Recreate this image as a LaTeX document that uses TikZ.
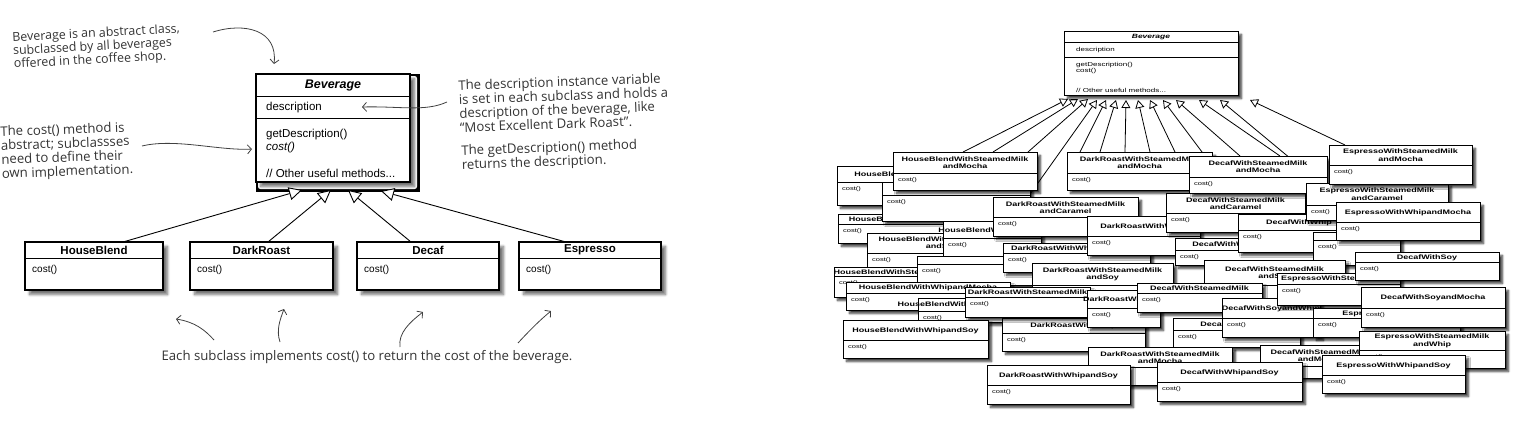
\documentclass[tikz,border=0pt]{standalone}
\usepackage{fontspec}
\usepackage{graphicx}
\setmainfont{Liberation Sans}
\newfontfamily\handfont{Open Sans}
\usetikzlibrary{arrows.meta,shadows.blur,backgrounds,calc}

\newcommand\sq[1]{\scalebox{1}[0.72]{\shortstack{#1}}}

\tikzset{
  umlbox/.style={draw=black, line width=1.2pt, fill=white, rectangle, inner sep=0pt, outer sep=0pt,
    blur shadow={shadow xshift=4.5pt, shadow yshift=-4.5pt, shadow blur radius=2.5pt, shadow blur steps=8, shadow opacity=55}},
  rbox/.style={draw=black, line width=0.9pt, fill=white, rectangle, inner sep=0pt, outer sep=0pt,
    blur shadow={shadow xshift=3.5pt, shadow yshift=-3.5pt, shadow blur radius=2pt, shadow blur steps=6, shadow opacity=75}},
  sepline/.style={line width=0.9pt},
  rsep/.style={line width=0.8pt},
  rtitle/.style={font=\fontsize{9}{9.5}\selectfont\bfseries, inner sep=0pt},
  rmeth/.style={font=\fontsize{7.5}{8}\selectfont, inner sep=0pt, anchor=west},
  umltext/.style={font=\fontsize{11.5}{13}\selectfont, inner sep=0pt, anchor=west},
  hand/.style={font=\handfont\fontsize{13.2}{14}\selectfont, text=black!80, align=left, inner sep=0pt},
  harrow/.style={-{Straight Barb[length=4pt,width=9pt]}, line width=0.8pt, draw=black!75},
  inh/.style={-{Triangle[length=13pt,width=13pt,fill=white]}, line width=0.9pt},
  rinh/.style={-{Triangle[length=8pt,width=9pt,fill=white]}, line width=0.8pt},
}

% right-hand class box: name, x1, y1, x2, y2, separator y, title
\newcommand\rcls[7]{%
  \node[rbox, minimum width={#4-#2}, minimum height={#5-#3}, anchor=north west] (#1) at (#2,#3) {};
  \draw[rsep] (#2,#6) -- (#4,#6);
  \node[rtitle] at ({(#2+#4)/2},{(#3+#6)/2+0.5}) {\sq{#7}};
  \node[rmeth] at ({#2+5},{#6+7}) {\sq{cost()}};
}
% left-hand subclass box: name, x1, x2, title
\newcommand\subc[4]{%
  \node[umlbox, minimum width={#3-#2}, minimum height=48, anchor=north west] (#1) at (#2,242) {};
  \draw[sepline] (#2,258) -- (#3,258);
  \node[font=\fontsize{11.5}{13}\selectfont\bfseries, inner sep=0pt] at ({(#2+#3)/2},250) {#4};
  \node[font=\fontsize{10}{12}\selectfont, inner sep=0pt, anchor=west] at ({#2+7},270) {cost()};
}

\begin{document}
\begin{tikzpicture}[x=1pt,y=-1pt]
\begin{pgfonlayer}{background}
\fill[white] (0,0) rectangle (1540,434);
\end{pgfonlayer}
\useasboundingbox (0,0) rectangle (1540,434);

% ================= LEFT DIAGRAM =================
\node[umlbox, minimum width=154, minimum height=108, anchor=north west] (bev) at (256,74) {};
\draw[sepline] (256,96) -- (410,96);
\draw[sepline] (256,118) -- (410,118);
\node[font=\fontsize{12.5}{14}\selectfont\bfseries\itshape, inner sep=0pt] (bevt) at (333,85) {Beverage};
\node[umltext] (bevd) at (266,107.5) {description};
\node[umltext] (bevg) at (266,134.5) {getDescription()};
\node[umltext] (bevc) at (266,147.5) {\itshape cost()};
\node[umltext] (bevo) at (266,173) {// Other useful methods...};

\subc{hb}{25}{163}{HouseBlend}
\subc{dr}{190}{333}{DarkRoast}
\subc{de}{357}{499}{Decaf}
\subc{es}{519}{661}{Espresso}

\coordinate (tHB) at (302,190);
\coordinate (tDR) at (331,190);
\coordinate (tDE) at (348,190);
\coordinate (tES) at (381,191);
\draw[inh] ($(hb.north west)+(98,0)$) -- (tHB);
\draw[inh] ($(dr.north west)+(78,0)$) -- (tDR);
\draw[inh] ($(de.north west)+(54,0)$) -- (tDE);
\draw[inh] ($(es.north west)+(47,0)$) -- (tES);

% annotations
\node[hand, font=\handfont\fontsize{12.4}{13.2}\selectfont, rotate=3, anchor=north west] (n1) at (12,32) {Beverage is an abstract class,\\subclassed by all beverages\\offered in the coffee shop.};
\coordinate (n1e) at (274,64);
\draw[harrow] (213,32) .. controls (245,22) and (278,30) .. (n1e);

\node[hand, rotate=2, anchor=north west] (n2) at (0,126) {The cost() method is\\abstract; subclassses\\need to define their\\own implementation.};
\coordinate (n2e) at (252,149);
\draw[harrow] (142,146) .. controls (175,138) and (220,151) .. (n2e);

\node[hand, rotate=2, anchor=north west] (n3) at (458,80) {The description instance variable\\is set in each subclass and holds a\\description of the beverage, like\\“Most Excellent Dark Roast”.};
\node[hand, rotate=2, anchor=north west] (n4) at (461,145) {The getDescription() method\\returns the description.};
\coordinate (n3e) at (362,107);
\draw[harrow] (447,102) .. controls (425,112) and (400,106) .. (n3e);

\node[hand] (n5) at (367,357) {Each subclass implements cost() to return the cost of the beverage.};
\coordinate (a1) at (176,319);
\coordinate (a2) at (284,309);
\coordinate (a3) at (423,312);
\coordinate (a4) at (551,311);
\draw[harrow] (214,340) .. controls (205,330) and (195,322) .. (a1);
\draw[harrow] (280,342) .. controls (276,330) and (280,320) .. (a2);
\draw[harrow] (400,347) .. controls (398,333) and (410,322) .. (a3);
\draw[harrow] (518,343) .. controls (530,330) and (540,320) .. (a4);

% ================= RIGHT DIAGRAM =================
\node[rbox, minimum width=174, minimum height=64, anchor=north west] (rbev) at (1064,31) {};
\draw[rsep] (1064,42) -- (1238,42);
\draw[rsep] (1064,57) -- (1238,57);
\node[rtitle, font=\fontsize{8.5}{9}\selectfont\bfseries\itshape] at (1151,37) {\sq{Beverage}};
\node[rmeth, font=\fontsize{8}{9}\selectfont] at (1076,50) {\sq{description}};
\node[rmeth, font=\fontsize{8}{9}\selectfont] at (1076,65) {\sq{getDescription()}};
\node[rmeth, font=\fontsize{8}{9}\selectfont] at (1076,71.5) {\sq{cost()}};
\node[rmeth, font=\fontsize{8}{9}\selectfont] at (1076,90) {\sq{// Other useful methods...}};

% pile of subclasses, back to front
\rcls{r1}{837}{166}{960}{205}{182}{HouseBlendWithSoy}
\rcls{r2}{838}{214}{960}{243}{224}{HouseBlendWithMocha}
\rcls{r3}{882}{182}{1030}{221}{195}{HouseBlendWithWhip}
\rcls{r4}{893}{152}{1037}{190}{173}{HouseBlendWithSteamedMilk\\andMocha}
\rcls{r5}{867}{233}{1017}{270}{253}{HouseBlendWithSteamedMilk\\andSoy}
\rcls{r6}{943}{221}{1041}{258}{238}{HouseBlendWithCaramel}
\rcls{r7}{993}{197}{1138}{236}{217}{DarkRoastWithSteamedMilk\\andCaramel}
\rcls{r8}{1067}{152}{1212}{190}{173}{DarkRoastWithSteamedMilk\\andMocha}
\rcls{r9}{834}{267}{960}{297}{276}{HouseBlendWithSteamedMilk}
\rcls{r10}{917}{256}{1032}{285}{264}{}
\rcls{r11}{1003}{243}{1150}{272}{253}{DarkRoastWithWhipandMocha}
\rcls{r12}{1087}{216}{1200}{255}{236}{DarkRoastWithWhip}
\rcls{r13}{1032}{263}{1173}{292}{285}{DarkRoastWithSteamedMilk\\andSoy}
\rcls{r14}{846}{282}{1010}{310}{293}{HouseBlendWithWhipandMocha}
\rcls{r15}{918}{298}{1010}{322}{311}{HouseBlendWithSoyandMocha}
\rcls{r16}{1002}{318}{1145}{351}{333}{DarkRoastWithWhip}
\rcls{r17}{965}{287}{1090}{317}{297}{DarkRoastWithSteamedMilk}
\rcls{r18}{1087}{290}{1160}{327}{308}{DarkRoastWithSoy}
\rcls{r19}{1166}{193}{1305}{232}{213}{DecafWithSteamedMilk\\andCaramel}
\rcls{r20}{1189}{156}{1327}{193}{177}{DecafWithSteamedMilk\\andMocha}
\rcls{r21}{1175}{238}{1320}{265}{250}{DecafWithWhipandMocha}
\rcls{r22}{1238}{214}{1360}{252}{230}{DecafWithWhip}
\rcls{r23}{1306}{183}{1448}{220}{205}{EspressoWithSteamedMilk\\andCaramel}
\rcls{r24}{1329}{145}{1472}{184}{165}{EspressoWithSteamedMilk\\andMocha}
\rcls{r25}{1313}{232}{1400}{265}{240}{}
\rcls{r26}{1336}{202}{1480}{240}{222}{EspressoWithWhipandMocha}
\rcls{r27}{1204}{260}{1345}{298}{285}{DecafWithSteamedMilk\\andSoy}
\rcls{r28}{1137}{283}{1262}{312}{293}{DecafWithSteamedMilk}
\rcls{r29}{1173}{318}{1300}{347}{330}{DecafWithMocha}
\rcls{r30}{1222}{298}{1320}{337}{318}{DecafWithSoyandWhip}
\rcls{r31}{1277}{273}{1400}{305}{284}{EspressoWithSteamedMilk}
\rcls{r32}{1355}{252}{1499}{280}{262}{DecafWithSoy}
\rcls{r33}{1313}{308}{1460}{337}{318}{EspressoWithMocha}
\rcls{r34}{1361}{287}{1505}{327}{308}{DecafWithSoyandMocha}
\rcls{r35}{1260}{345}{1380}{378}{366}{DecafWithSteamedMilk\\andMocha}
\rcls{r36}{1359}{331}{1505}{368}{350}{EspressoWithSteamedMilk\\andWhip}
\rcls{r37}{1088}{347}{1232}{385}{367}{DarkRoastWithSteamedMilk\\andMocha}
\rcls{r38}{843}{320}{988}{358}{340}{HouseBlendWithWhipandSoy}
\rcls{r39}{987}{365}{1130}{404}{385}{DarkRoastWithWhipandSoy}
\rcls{r40}{1157}{362}{1302}{401}{382}{DecafWithWhipandSoy}
\rcls{r41}{1322}{355}{1465}{393}{375}{EspressoWithWhipandSoy}

% inheritance fan (behind the pile)
\begin{pgfonlayer}{background}
\coordinate (rt1) at (1068,99);
\coordinate (rt2) at (1078,99);
\coordinate (rt3) at (1088,99);
\coordinate (rt4) at (1097,100);
\coordinate (rt5) at (1106,100);
\coordinate (rt6) at (1116,100);
\coordinate (rt7) at (1126,100);
\coordinate (rt8) at (1138,100);
\coordinate (rt9) at (1150,100);
\coordinate (rt10) at (1163,100);
\coordinate (rt11) at (1176,100);
\coordinate (rt12) at (1199,100);
\coordinate (rt13) at (1220,100);
\coordinate (rt14) at (1250,100);
\draw[rinh] ($(r4.north west)+(70,0)$) -- (rt1);
\draw[rinh] ($(r4.north west)+(100,0)$) -- (rt2);
\draw[rinh] ($(r4.north west)+(135,0)$) -- (rt3);
\draw[rinh] ($(r7.north west)+(35,0)$) -- (rt4);
\draw[rinh] ($(r8.north west)+(13,0)$) -- (rt5);
\draw[rinh] ($(r8.north west)+(33,0)$) -- (rt6);
\draw[rinh] ($(r8.north west)+(58,0)$) -- (rt7);
\draw[rinh] ($(r8.north west)+(83,0)$) -- (rt8);
\draw[rinh] ($(r8.north west)+(108,0)$) -- (rt9);
\draw[rinh] ($(r20.north west)+(16,0)$) -- (rt10);
\draw[rinh] ($(r20.north west)+(51,0)$) -- (rt11);
\draw[rinh] ($(r20.north west)+(91,0)$) -- (rt12);
\draw[rinh] ($(r23.north west)+(14,0)$) -- (rt13);
\draw[rinh] ($(r24.north west)+(16,0)$) -- (rt14);
\end{pgfonlayer}
\end{tikzpicture}
\end{document}
